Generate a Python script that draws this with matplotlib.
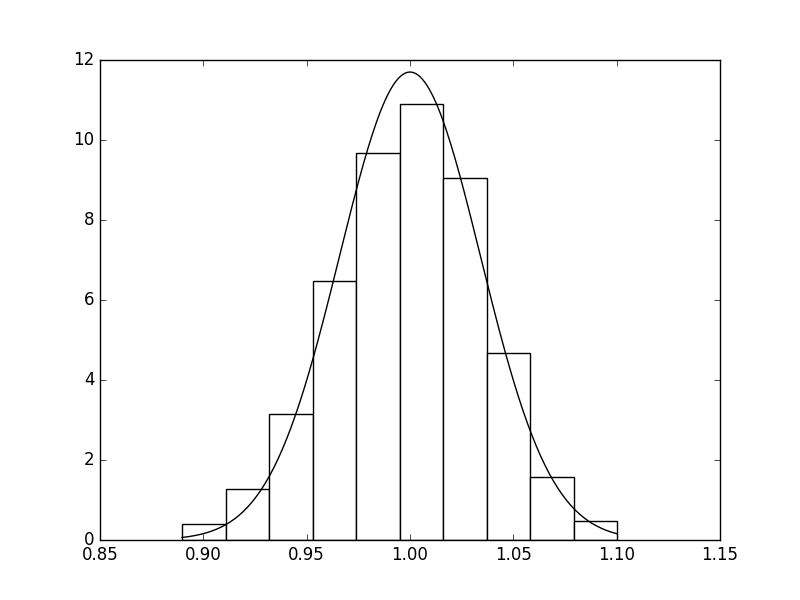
import numpy as np
import matplotlib
matplotlib.use("Agg")
import matplotlib.pyplot as plt

# bin edges and heights
bin_edges = [0.8897, 0.9108, 0.9318, 0.9529, 0.9739, 0.9950,
             1.0160, 1.0371, 1.0581, 1.0792, 1.1002]
bin_heights = [0.40, 1.275, 3.15, 6.475, 9.675, 10.90, 9.05, 4.675, 1.575, 0.475]

# normal curve parameters (fitted)
mu = 1.0
sigma = 0.0341


def main():
    plt.style.use('classic')
    fig, ax = plt.subplots(figsize=(8, 6), dpi=100)

    edges = np.array(bin_edges)
    ax.bar(edges[:-1], bin_heights, width=np.diff(edges), align='edge',
           facecolor='white', edgecolor='black')

    x = np.linspace(edges[0], edges[-1], 200)
    pdf = np.exp(-(x - mu) ** 2 / (2 * sigma ** 2)) / (sigma * np.sqrt(2 * np.pi))
    ax.plot(x, pdf, color='black')

    ax.set_xlim(0.85, 1.15)
    ax.set_ylim(0, 12)
    fig.savefig('out.png', dpi=100)


if __name__ == "__main__":
    main()
